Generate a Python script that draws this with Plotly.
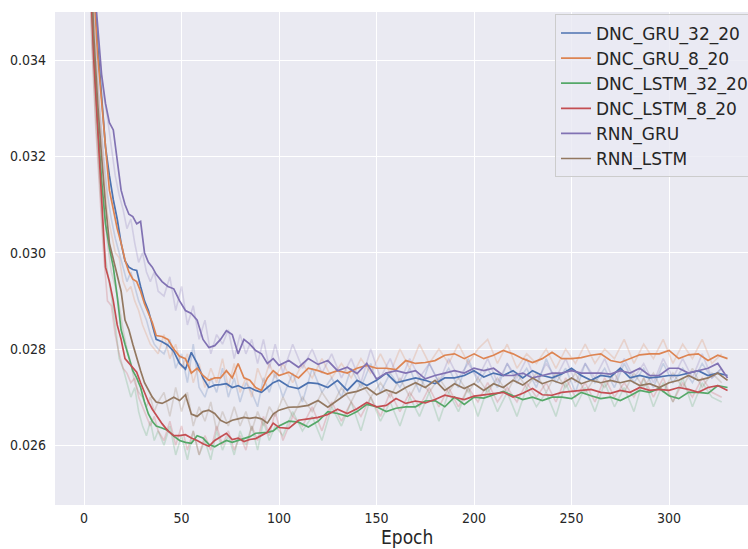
import plotly.graph_objects as go

# Epochs at which each smoothed validation-loss curve is recorded
epochs = [1, 3, 5, 7, 9, 11, 13, 15, 17, 19, 21, 23, 25, 27, 29, 31, 33, 35, 37,
          40, 43, 46, 49, 52, 55, 58, 61, 64, 67, 70, 73, 76, 79, 82, 85, 88, 91, 94, 97,
          100, 105, 110, 115, 120, 125, 130, 135, 140, 145, 150, 155, 160, 165, 170,
          175, 180, 185, 190, 195, 200, 205, 210, 215, 220, 225, 230, 235, 240, 245,
          250, 255, 260, 265, 270, 275, 280, 285, 290, 295, 300, 305, 310, 315, 320,
          325, 330]

dnc_gru_32_20 = [
    0.0405, 0.0378, 0.0358, 0.0343, 0.0332, 0.0322, 0.0316, 0.0311, 0.0307, 0.0302,
    0.02983, 0.0297, 0.02965, 0.02963, 0.0293, 0.0290, 0.0288, 0.0285, 0.0282,
    0.02815, 0.02808, 0.02795, 0.0277, 0.02758, 0.02793, 0.0277, 0.0274, 0.0272, 0.02725,
    0.02726, 0.02728, 0.0272, 0.02724, 0.02718, 0.0272, 0.02714, 0.0271, 0.0272, 0.0273,
    0.02735, 0.02722, 0.02718, 0.0273, 0.02728, 0.0272, 0.02735, 0.02714, 0.02735, 0.02724,
    0.02735, 0.0275, 0.0273, 0.02735, 0.0274, 0.02735, 0.02728, 0.0274, 0.0274, 0.02745,
    0.02755, 0.02742, 0.0275, 0.02745, 0.02755, 0.0274, 0.02755, 0.02745, 0.0274, 0.02748,
    0.0276, 0.02745, 0.02735, 0.02745, 0.02742, 0.0276, 0.0274, 0.02745, 0.0274, 0.02742,
    0.02745, 0.02745, 0.0275, 0.02755, 0.02745, 0.0275, 0.02745]

dnc_gru_8_20 = [
    0.0400, 0.0375, 0.0355, 0.0341, 0.0331, 0.0322, 0.0313, 0.0309, 0.0305, 0.0302,
    0.02985, 0.0296, 0.02945, 0.0294, 0.0292, 0.02894, 0.02875, 0.02855, 0.02828,
    0.02826, 0.0282, 0.0280, 0.02785, 0.0278, 0.0275, 0.0276, 0.02745, 0.02735, 0.0274,
    0.0274, 0.02755, 0.0274, 0.0277, 0.0274, 0.02735, 0.0272, 0.02714, 0.0274, 0.02755,
    0.02745, 0.02752, 0.0274, 0.0276, 0.02755, 0.02748, 0.02755, 0.0275, 0.0276, 0.02766,
    0.0276, 0.0276, 0.02757, 0.02776, 0.0277, 0.02772, 0.02776, 0.02787, 0.0279, 0.0278,
    0.0279, 0.0278, 0.02787, 0.02797, 0.0279, 0.0278, 0.02772, 0.0278, 0.02793, 0.0278,
    0.0278, 0.02782, 0.02787, 0.0279, 0.02776, 0.02772, 0.0278, 0.02788, 0.0279, 0.0279,
    0.02797, 0.0278, 0.02788, 0.0279, 0.02776, 0.02787, 0.0278]

dnc_lstm_32_20 = [
    0.0395, 0.0362, 0.0342, 0.0327, 0.0315, 0.0306, 0.0301, 0.0297, 0.0291, 0.0284,
    0.0281, 0.0278, 0.02755, 0.0274, 0.0272, 0.0269, 0.02665, 0.0265, 0.0264,
    0.02636, 0.02631, 0.02619, 0.0261, 0.02606, 0.02604, 0.0262, 0.02615, 0.02602, 0.02597,
    0.02604, 0.0261, 0.02606, 0.0261, 0.02615, 0.02618, 0.02625, 0.02626, 0.02627, 0.0263,
    0.0264, 0.0265, 0.02648, 0.02638, 0.0265, 0.0267, 0.02666, 0.0266, 0.0267, 0.02685,
    0.0268, 0.0267, 0.02677, 0.0268, 0.0268, 0.02692, 0.02693, 0.0268, 0.0270, 0.02685,
    0.0270, 0.02698, 0.02705, 0.02712, 0.02703, 0.02695, 0.0270, 0.02693, 0.0270, 0.0270,
    0.02697, 0.0271, 0.02703, 0.02697, 0.0270, 0.02693, 0.02703, 0.02714, 0.0271, 0.02718,
    0.02703, 0.02697, 0.0271, 0.0271, 0.02708, 0.02724, 0.0272]

dnc_lstm_8_20 = [
    0.0390, 0.0360, 0.0340, 0.0325, 0.0312, 0.0297, 0.0294, 0.0290, 0.0285, 0.0282,
    0.0278, 0.0277, 0.02762, 0.02752, 0.0273, 0.02708, 0.0269, 0.02675, 0.02662,
    0.02645, 0.0263, 0.0262, 0.0262, 0.02622, 0.02615, 0.0261, 0.02603, 0.02598, 0.0261,
    0.02617, 0.02625, 0.02612, 0.02615, 0.02608, 0.02612, 0.02614, 0.0262, 0.02627, 0.02646,
    0.02637, 0.02635, 0.02652, 0.02655, 0.02658, 0.02664, 0.02675, 0.02666, 0.02676, 0.02689,
    0.0268, 0.02683, 0.02697, 0.02687, 0.02692, 0.02688, 0.02695, 0.02704, 0.0270, 0.02695,
    0.02702, 0.02705, 0.02708, 0.0271, 0.0270, 0.02708, 0.02718, 0.02705, 0.02704, 0.0271,
    0.02712, 0.02714, 0.02716, 0.0271, 0.02708, 0.02714, 0.0271, 0.0272, 0.02714, 0.02716,
    0.02714, 0.0272, 0.02716, 0.0271, 0.0272, 0.02724, 0.02714]

rnn_gru = [
    0.0395, 0.0372, 0.0357, 0.0347, 0.0337, 0.0331, 0.0327, 0.03255, 0.0319, 0.0313,
    0.0310, 0.0308, 0.03075, 0.0306, 0.03065, 0.0300, 0.0298, 0.0297, 0.02955,
    0.0294, 0.0293, 0.02925, 0.0290, 0.0288, 0.02874, 0.0286, 0.0282, 0.02803, 0.02807,
    0.0282, 0.02838, 0.0283, 0.0279, 0.0282, 0.0281, 0.02797, 0.0279, 0.0277, 0.0278,
    0.02766, 0.02776, 0.02762, 0.0278, 0.02768, 0.02776, 0.02755, 0.02762, 0.02749, 0.0277,
    0.02738, 0.0275, 0.02755, 0.0275, 0.02755, 0.02738, 0.02745, 0.0275, 0.02755, 0.0275,
    0.0276, 0.02755, 0.0276, 0.02745, 0.02745, 0.0275, 0.0274, 0.02745, 0.0275, 0.0275,
    0.02755, 0.0275, 0.0275, 0.0275, 0.02748, 0.02755, 0.0275, 0.0276, 0.02745, 0.02745,
    0.0276, 0.0276, 0.0275, 0.02755, 0.0276, 0.0277, 0.0274]

rnn_lstm = [
    0.0395, 0.0365, 0.0345, 0.0331, 0.0320, 0.0310, 0.0302, 0.02985, 0.0295, 0.0292,
    0.0286, 0.0284, 0.0281, 0.0278, 0.02755, 0.0273, 0.02714, 0.0270, 0.0269,
    0.02687, 0.02693, 0.0270, 0.02693, 0.02705, 0.02665, 0.0266, 0.0267, 0.02673, 0.02666,
    0.02652, 0.02646, 0.02652, 0.02655, 0.02658, 0.02656, 0.02658, 0.02655, 0.02646, 0.02665,
    0.02673, 0.02679, 0.0268, 0.02683, 0.02693, 0.02679, 0.02693, 0.02708, 0.02712, 0.0272,
    0.02705, 0.02715, 0.02708, 0.0272, 0.0273, 0.0272, 0.02735, 0.02714, 0.02728, 0.02718,
    0.02728, 0.02714, 0.02728, 0.0272, 0.02735, 0.02725, 0.0274, 0.02728, 0.02735, 0.02728,
    0.0274, 0.02728, 0.02735, 0.0273, 0.02735, 0.0273, 0.02735, 0.02724, 0.02728, 0.0272,
    0.0273, 0.02735, 0.02745, 0.02735, 0.0274, 0.0275, 0.02735]

# Unsmoothed per-epoch losses, drawn faintly behind the smoothed curves
raw_epochs = ([2, 4, 6, 8, 10, 12, 14, 16, 18, 20, 22, 24, 26, 28, 30, 32, 34, 36, 38]
              + [41, 44, 47, 50, 53, 56, 59, 62, 65, 68, 71, 74, 77, 80, 83, 86, 89, 92, 95, 98]
              + [102, 107, 112, 117, 122, 127, 132, 137, 142, 147,
                 152, 157, 162, 167, 172, 177, 182, 187, 192, 197,
                 202, 207, 212, 217, 222, 227, 232, 237, 242, 247,
                 252, 257, 262, 267, 272, 277, 282, 287, 292, 297,
                 302, 307, 312, 317, 322, 327])

raw_dnc_gru_32_20 = [
    0.0385, 0.0360, 0.0343, 0.0330, 0.0320, 0.0312, 0.0307, 0.0303, 0.0300, 0.0297,
    0.0294, 0.0296, 0.0293, 0.0290, 0.0288, 0.0286, 0.0283, 0.0281, 0.0280,
    0.0279, 0.0282, 0.0276, 0.0279, 0.0273, 0.0281, 0.0272, 0.0270, 0.0274, 0.0271,
    0.0276, 0.0270, 0.0274, 0.0269, 0.0273, 0.0271, 0.0268, 0.0274, 0.0271, 0.0275,
    0.0270, 0.0275, 0.0269, 0.0276, 0.0271, 0.0274, 0.0270, 0.0276, 0.0272, 0.0277,
    0.0271, 0.0275, 0.0272, 0.0276, 0.0271, 0.0277, 0.0273, 0.0276, 0.0272, 0.0278,
    0.0273, 0.0276, 0.0272, 0.0277, 0.0273, 0.0276, 0.0272, 0.0278, 0.0273, 0.0276,
    0.0271, 0.0277, 0.0273, 0.0276, 0.0272, 0.0277, 0.0273, 0.0276, 0.0272, 0.0277,
    0.0273, 0.0276, 0.0273, 0.0277, 0.0274, 0.0276]

raw_dnc_gru_8_20 = [
    0.0380, 0.0356, 0.0340, 0.0328, 0.0318, 0.0308, 0.0304, 0.0300, 0.0299, 0.0294,
    0.0292, 0.0293, 0.0290, 0.0288, 0.0285, 0.0283, 0.0281, 0.0280, 0.0279,
    0.0283, 0.0278, 0.0281, 0.0276, 0.0279, 0.0273, 0.0277, 0.0272, 0.0276, 0.0273,
    0.0278, 0.0272, 0.0277, 0.0271, 0.0274, 0.0270, 0.0276, 0.0273, 0.0277, 0.0274,
    0.0277, 0.0273, 0.0277, 0.0274, 0.0278, 0.0274, 0.0277, 0.0274, 0.0278, 0.0275,
    0.0279, 0.0275, 0.0280, 0.0276, 0.0281, 0.0277, 0.0280, 0.0277, 0.0281, 0.0277,
    0.0280, 0.0282, 0.0277, 0.0281, 0.0276, 0.0279, 0.0277, 0.0280, 0.0276, 0.0280,
    0.0277, 0.0281, 0.0277, 0.0280, 0.0278, 0.0282, 0.0277, 0.0281, 0.0278, 0.0282,
    0.0277, 0.0281, 0.0278, 0.0282, 0.0277, 0.0279]

raw_dnc_lstm_32_20 = [
    0.0370, 0.0345, 0.0328, 0.0314, 0.0302, 0.0296, 0.0291, 0.0285, 0.0278, 0.0276,
    0.0273, 0.0270, 0.0272, 0.0267, 0.0264, 0.0262, 0.0265, 0.0261, 0.0263,
    0.0260, 0.0264, 0.0258, 0.0262, 0.0257, 0.0263, 0.0258, 0.0261, 0.0257, 0.0263,
    0.0259, 0.0262, 0.0258, 0.0263, 0.0260, 0.0264, 0.0259, 0.0265, 0.0261, 0.0264,
    0.0262, 0.0267, 0.0263, 0.0266, 0.0261, 0.0268, 0.0264, 0.0269, 0.0263, 0.0270,
    0.0265, 0.0269, 0.0264, 0.0270, 0.0266, 0.0271, 0.0265, 0.0271, 0.0267, 0.0272,
    0.0266, 0.0272, 0.0267, 0.0271, 0.0266, 0.0272, 0.0268, 0.0271, 0.0266, 0.0273,
    0.0268, 0.0272, 0.0267, 0.0273, 0.0268, 0.0272, 0.0267, 0.0274, 0.0268, 0.0273,
    0.0269, 0.0274, 0.0268, 0.0273, 0.0270, 0.0269]

raw_dnc_lstm_8_20 = [
    0.0368, 0.0343, 0.0326, 0.0312, 0.0300, 0.0290, 0.0289, 0.0283, 0.0279, 0.0276,
    0.0275, 0.0273, 0.0274, 0.0270, 0.0268, 0.0266, 0.0264, 0.0266, 0.0263,
    0.0261, 0.0265, 0.0260, 0.0264, 0.0259, 0.0263, 0.0258, 0.0262, 0.0259, 0.0264,
    0.0260, 0.0263, 0.0259, 0.0262, 0.0259, 0.0264, 0.0261, 0.0266, 0.0262, 0.0267,
    0.0261, 0.0266, 0.0264, 0.0268, 0.0263, 0.0269, 0.0265, 0.0269, 0.0266, 0.0270,
    0.0266, 0.0271, 0.0267, 0.0271, 0.0268, 0.0272, 0.0268, 0.0272, 0.0268, 0.0272,
    0.0269, 0.0273, 0.0269, 0.0272, 0.0269, 0.0273, 0.0270, 0.0273, 0.0269, 0.0274,
    0.0270, 0.0273, 0.0269, 0.0274, 0.0270, 0.0273, 0.0270, 0.0274, 0.0270, 0.0274,
    0.0269, 0.0273, 0.0270, 0.0274, 0.0271, 0.0270]

raw_rnn_gru = [
    0.0382, 0.0362, 0.0350, 0.0340, 0.0333, 0.0328, 0.0322, 0.0316, 0.0312, 0.0309,
    0.0305, 0.0307, 0.0302, 0.0298, 0.0300, 0.0296, 0.0294, 0.0296, 0.0292,
    0.0291, 0.0295, 0.0288, 0.0293, 0.0285, 0.0289, 0.0282, 0.0286, 0.0279, 0.0283,
    0.0281, 0.0284, 0.0278, 0.0283, 0.0279, 0.0282, 0.0277, 0.0282, 0.0276, 0.0281,
    0.0275, 0.0281, 0.0276, 0.0280, 0.0275, 0.0279, 0.0274, 0.0278, 0.0273, 0.0280,
    0.0274, 0.0278, 0.0273, 0.0278, 0.0274, 0.0277, 0.0273, 0.0278, 0.0274, 0.0277,
    0.0274, 0.0278, 0.0273, 0.0277, 0.0274, 0.0278, 0.0273, 0.0277, 0.0274, 0.0278,
    0.0273, 0.0277, 0.0274, 0.0278, 0.0273, 0.0278, 0.0274, 0.0277, 0.0273, 0.0278,
    0.0274, 0.0278, 0.0274, 0.0279, 0.0274, 0.0276]

raw_rnn_lstm = [
    0.0372, 0.0350, 0.0334, 0.0320, 0.0310, 0.0302, 0.0296, 0.0293, 0.0289, 0.0284,
    0.0280, 0.0277, 0.0273, 0.0271, 0.0270, 0.0268, 0.0270, 0.0267, 0.0269,
    0.0271, 0.0266, 0.0272, 0.0267, 0.0271, 0.0264, 0.0268, 0.0265, 0.0269, 0.0263,
    0.0267, 0.0264, 0.0268, 0.0264, 0.0267, 0.0263, 0.0267, 0.0264, 0.0268, 0.0266,
    0.0270, 0.0266, 0.0270, 0.0267, 0.0271, 0.0268, 0.0272, 0.0269, 0.0273, 0.0270,
    0.0273, 0.0270, 0.0274, 0.0270, 0.0274, 0.0271, 0.0274, 0.0271, 0.0274, 0.0271,
    0.0274, 0.0271, 0.0274, 0.0271, 0.0275, 0.0272, 0.0275, 0.0271, 0.0275, 0.0272,
    0.0275, 0.0271, 0.0274, 0.0272, 0.0275, 0.0271, 0.0275, 0.0272, 0.0275, 0.0271,
    0.0275, 0.0272, 0.0276, 0.0272, 0.0275, 0.0273]

series_names = ["DNC_GRU_32_20", "DNC_GRU_8_20", "DNC_LSTM_32_20",
                "DNC_LSTM_8_20", "RNN_GRU", "RNN_LSTM"]
series_values = [dnc_gru_32_20, dnc_gru_8_20, dnc_lstm_32_20,
                 dnc_lstm_8_20, rnn_gru, rnn_lstm]
raw_values = [raw_dnc_gru_32_20, raw_dnc_gru_8_20, raw_dnc_lstm_32_20,
              raw_dnc_lstm_8_20, raw_rnn_gru, raw_rnn_lstm]
palette = ["#4C72B0", "#DD8452", "#55A868", "#C44E52", "#8172B3", "#937860"]
faint = ["rgba(76,114,176,0.24)", "rgba(221,132,82,0.24)", "rgba(85,168,104,0.24)",
         "rgba(196,78,82,0.24)", "rgba(129,114,179,0.24)", "rgba(147,120,96,0.24)"]

x_ticks = [0, 50, 100, 150, 200, 250, 300]
y_ticks = [0.026, 0.028, 0.030, 0.032, 0.034]

fig = go.Figure()
# faint raw curves first so the smoothed ones sit on top
for name, vals, col in zip(series_names, raw_values, faint):
    n = min(len(vals), len(raw_epochs))
    fig.add_trace(go.Scatter(
        x=raw_epochs[:n], y=vals[:n], mode="lines", showlegend=False,
        hoverinfo="skip", line=dict(color=col, width=1.6), legendgroup=name))
for name, vals, col in zip(series_names, series_values, palette):
    fig.add_trace(go.Scatter(
        x=epochs, y=vals, mode="lines", name=name,
        line=dict(color=col, width=1.7), legendgroup=name))

tick_font = dict(family="DejaVu Sans Condensed, Liberation Sans Narrow, DejaVu Sans",
                 size=14, color="#262626")

fig.update_layout(
    width=748, height=549,
    margin=dict(l=55, r=0, t=12, b=44, autoexpand=False),
    paper_bgcolor="white", plot_bgcolor="#EAEAF2",
    showlegend=True,
    legend=dict(x=0.7215, y=0.995, xanchor="left", yanchor="top",
                bgcolor="rgba(234,234,242,0.8)", bordercolor="#CCCCCC", borderwidth=1,
                font=dict(family="DejaVu Sans", size=17, color="#262626"),
                tracegroupgap=0),
    xaxis=dict(range=[-14.9, 340.5], tickvals=x_ticks, ticktext=[str(t) for t in x_ticks],
               showgrid=True, gridcolor="white", gridwidth=1.3, zeroline=False,
               showline=False, ticks="", tickfont=tick_font, ticklabelstandoff=3,
               automargin=False),
    yaxis=dict(range=[0.02476, 0.03500], tickvals=y_ticks,
               ticktext=["%.3f" % t for t in y_ticks],
               showgrid=True, gridcolor="white", gridwidth=1.3, zeroline=False,
               showline=False, ticks="", tickfont=tick_font, ticklabelstandoff=8,
               automargin=False),
    annotations=[dict(text="Epoch", xref="paper", yref="paper", x=0.508, y=-0.0649,
                      xanchor="center", yanchor="middle", showarrow=False,
                      font=dict(family="DejaVu Sans Condensed, DejaVu Sans", size=19,
                                color="#262626"))],
)

fig.write_html("out.html")
